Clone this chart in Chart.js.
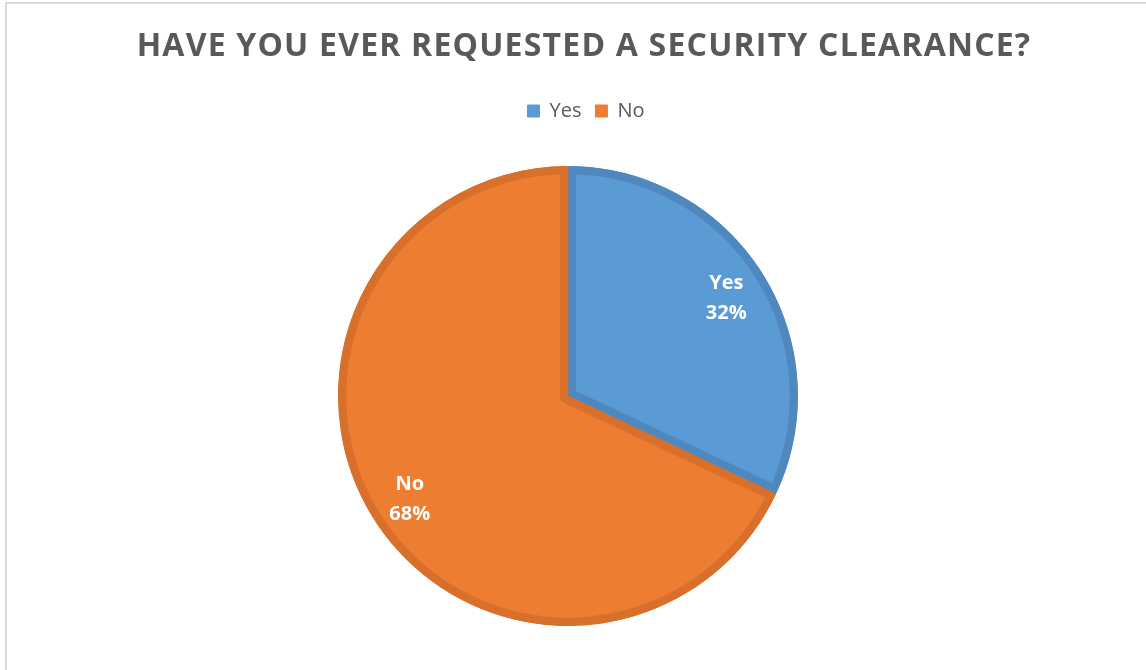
<!DOCTYPE html>
<html lang="en">
<head>
    <meta charset="UTF-8">
    <title>Have you ever requested a security clearance?</title>
    <script src="https://cdn.jsdelivr.net/npm/chart.js"></script>
    <style>
        body { margin: 0; background: #fff; }
        #wrap { position: relative; width: 1146px; height: 670px; overflow: hidden; }
        #frame { position: absolute; left: 5px; top: 2px; width: 1200px; height: 700px;
                 border-left: 2px solid #d9d9d9; border-top: 2px solid #d9d9d9; }
        #chart { position: absolute; left: 0; top: 0; }
    </style>
</head>
<body>
    <div id="wrap">
        <div id="frame"></div>
        <canvas id="chart" width="1146" height="670"></canvas>
    </div>

    <script>
        // Survey answers
        const chartTitle = 'HAVE YOU EVER REQUESTED A SECURITY CLEARANCE?';
        const answers = ['Yes', 'No'];
        const shares = [32, 68];
        const fillColors = ['#5b9bd5', '#ed7d31'];
        const edgeColors = ['#4f88bf', '#d8702b'];

        // spaced-out title (the built-in title can't do letter spacing)
        const spacedTitle = {
            id: 'spacedTitle',
            afterDraw(chart) {
                const ctx = chart.ctx;
                ctx.save();
                ctx.fillStyle = '#595959';
                ctx.font = 'bold 32px "Open Sans"';
                ctx.letterSpacing = '1.2px';
                ctx.textAlign = 'center';
                ctx.textBaseline = 'middle';
                ctx.fillText(chartTitle, 584, 47);
                ctx.restore();
            }
        };

        // legend sits a bit right of the pie centre in the original
        const nudgeLegend = {
            id: 'nudgeLegend',
            afterLayout(chart) {
                chart.legend.left += 18;
                chart.legend.right += 18;
            }
        };

        // white "Yes / 32%" labels inside the slices
        const sliceLabels = {
            id: 'sliceLabels',
            afterDatasetsDraw(chart) {
                const ctx = chart.ctx;
                const meta = chart.getDatasetMeta(0);
                ctx.save();
                ctx.fillStyle = '#ffffff';
                ctx.font = 'bold 20px "Open Sans"';
                ctx.textAlign = 'center';
                ctx.textBaseline = 'middle';
                meta.data.forEach((arc, i) => {
                    const mid = (arc.startAngle + arc.endAngle) / 2;
                    const r = arc.outerRadius * 0.815;
                    const x = arc.x + Math.cos(mid) * r;
                    const y = arc.y + Math.sin(mid) * r;
                    ctx.fillText(answers[i], x, y - 12);
                    ctx.fillText(shares[i] + '%', x, y + 18);
                });
                ctx.restore();
            }
        };

        const ctx = document.getElementById('chart').getContext('2d');
        new Chart(ctx, {
            type: 'pie',
            data: {
                labels: answers,
                datasets: [{
                    data: shares,
                    backgroundColor: fillColors,
                    borderColor: edgeColors,
                    borderWidth: 8,
                    borderAlign: 'inner',
                    radius: 230
                }]
            },
            options: {
                responsive: false,
                animation: false,
                layout: { padding: { top: 87, bottom: 9, left: 0, right: 10 } },
                plugins: {
                    title: { display: false },
                    legend: {
                        position: 'top',
                        labels: {
                            color: '#595959',
                            boxWidth: 12,
                            boxHeight: 12,
                            padding: 14,
                            font: { family: '"Open Sans"', size: 20 },
                            generateLabels(chart) {
                                return answers.map((a, i) => ({
                                    text: a,
                                    fillStyle: fillColors[i],
                                    strokeStyle: fillColors[i],
                                    lineWidth: 1,
                                    fontColor: '#595959',
                                    index: i
                                }));
                            }
                        }
                    },
                    tooltip: { enabled: false }
                }
            },
            plugins: [sliceLabels, spacedTitle, nudgeLegend]
        });
    </script>
</body>
</html>
